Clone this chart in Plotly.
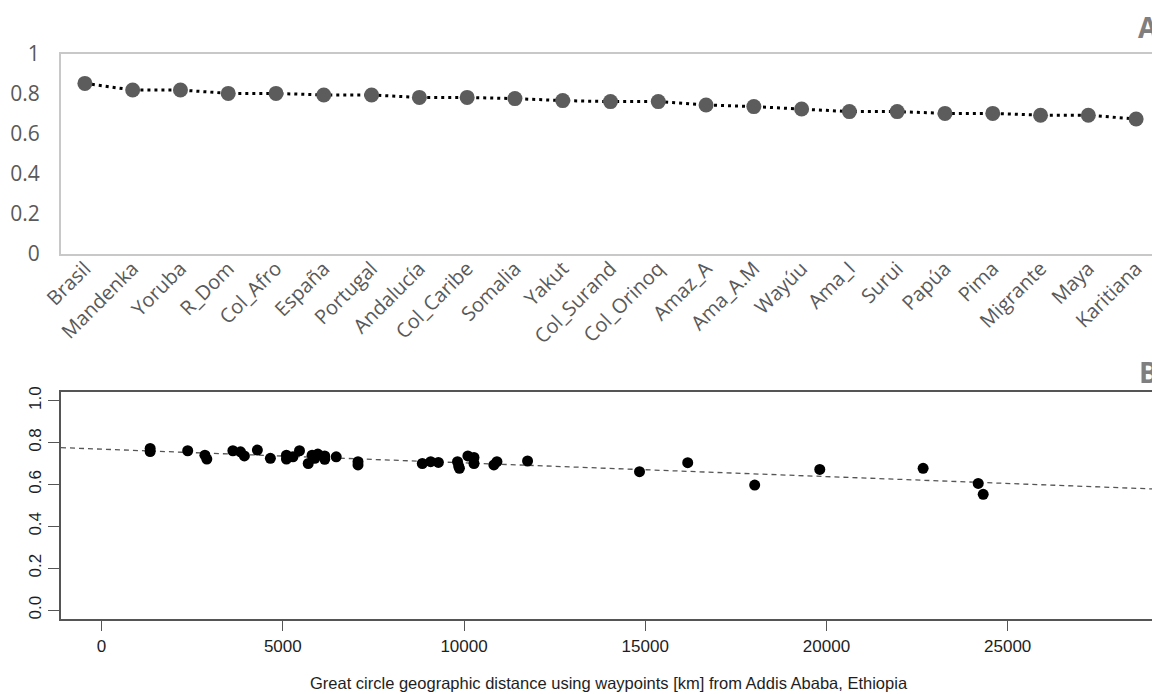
import plotly.graph_objects as go

# ---------------- Panel A data ----------------
populations = ["Brasil", "Mandenka", "Yoruba", "R_Dom", "Col_Afro", "España", "Portugal",
               "Andalucía", "Col_Caribe", "Somalia", "Yakut", "Col_Surand", "Col_Orinoq",
               "Amaz_A", "Ama_A.M", "Wayúu", "Ama_I", "Surui", "Papúa", "Pima",
               "Migrante", "Maya", "Karitiana"]
diversity_a = [0.853, 0.820, 0.820, 0.803, 0.803, 0.795, 0.795, 0.783, 0.783, 0.777,
               0.767, 0.762, 0.762, 0.745, 0.737, 0.725, 0.712, 0.712, 0.703, 0.703,
               0.694, 0.694, 0.675]
a_yticks = [0, 0.2, 0.4, 0.6, 0.8, 1]
a_yticktext = ["0", "0.2", "0.4", "0.6", "0.8", "1"]

# ---------------- Panel B data ----------------
distance_km = [1340, 1340, 2376, 2851, 2904, 3622, 3833, 3939, 4298, 4657,
               5100, 5100, 5280, 5460, 5702, 5808, 5882, 5966, 6156, 6156,
               6473, 7075, 7075, 8849, 9081, 9292, 9820, 9852, 9873, 10106,
               10275, 10275, 10824, 10908, 11753, 14842, 16172, 18020, 19815,
               22667, 24187, 24325]
diversity_b = [0.772, 0.757, 0.761, 0.740, 0.721, 0.761, 0.756, 0.736, 0.764, 0.725,
               0.740, 0.721, 0.732, 0.761, 0.700, 0.740, 0.725, 0.745, 0.736, 0.720,
               0.732, 0.709, 0.693, 0.700, 0.709, 0.705, 0.709, 0.688, 0.677, 0.736,
               0.729, 0.700, 0.693, 0.709, 0.712, 0.661, 0.704, 0.597, 0.672,
               0.677, 0.605, 0.553]
fit_intercept = 0.7685
fit_slope = -6.55e-6
b_xrange = [-1120, 29120]
b_xticks = [0, 5000, 10000, 15000, 20000, 25000]
b_xticktext = ["0", "5000", "10000", "15000", "20000", "25000"]
b_yticks = [0.0, 0.2, 0.4, 0.6, 0.8, 1.0]
b_yticktext = ["0.0", "0.2", "0.4", "0.6", "0.8", "1.0"]
x_title = "Great circle geographic distance using waypoints [km] from Addis Ababa, Ethiopia"

# The page body has an 8px margin; size the figure so it fills the 1160x694 window.
VW, VH, OFF = 1160, 694, 8
W, H = VW - OFF, VH - OFF


def px(xv):
    return (xv - OFF) / W


def py(yv):
    return (VH - yv) / H


fig = go.Figure()

fig.add_trace(go.Scatter(
    x=populations, y=diversity_a, mode="lines+markers",
    line=dict(color="black", width=3, dash="3px,4px"),
    marker=dict(size=15, color="#5c5c5c"),
    xaxis="x", yaxis="y", showlegend=False))

fit_y = [fit_intercept + fit_slope * xv for xv in b_xrange]
fig.add_trace(go.Scatter(
    x=b_xrange, y=fit_y, mode="lines",
    line=dict(color="#555555", width=1.3, dash="5px,4px"),
    xaxis="x2", yaxis="y2", showlegend=False))

fig.add_trace(go.Scatter(
    x=distance_km, y=diversity_b, mode="markers",
    marker=dict(size=11, color="black"),
    xaxis="x2", yaxis="y2", showlegend=False))

gray_txt = "#595959"
dark_txt = "#1e1e1e"
fig.update_layout(
    template="none",
    width=W, height=H,
    margin=dict(l=0, r=0, t=0, b=0, autoexpand=False),
    paper_bgcolor="white", plot_bgcolor="white",
    xaxis=dict(
        domain=[px(61), 1.0], anchor="y", type="category", automargin=False,
        range=[-0.5, 22.5], tickangle=-45, showgrid=False, zeroline=False,
        showline=True, mirror=True, linecolor="#c8c8c8", linewidth=2,
        ticks="", ticklabelstandoff=-7,
        tickfont=dict(family="Open Sans", size=20, color=gray_txt)),
    yaxis=dict(
        domain=[py(254), py(54)], anchor="x", automargin=False,
        range=[0, 1], tickvals=a_yticks, ticktext=a_yticktext,
        showgrid=False, zeroline=False,
        showline=True, mirror=True, linecolor="#c8c8c8", linewidth=2,
        ticks="", ticklabelstandoff=15,
        tickfont=dict(family="Open Sans", size=21, color=gray_txt)),
    xaxis2=dict(
        domain=[px(61), px(1157)], anchor="y2", automargin=False,
        range=b_xrange, tickvals=b_xticks, ticktext=b_xticktext,
        showgrid=False, zeroline=False,
        showline=True, mirror=True, linecolor="#555555", linewidth=1.5,
        ticks="outside", ticklen=11, tickcolor="#555555", tickwidth=1.3,
        tickfont=dict(family="Liberation Sans", size=17, color=dark_txt)),
    yaxis2=dict(
        domain=[py(618.5), py(392.3)], anchor="x2", automargin=False,
        range=[-0.04, 1.04], tickvals=b_yticks, ticktext=b_yticktext,
        tickangle=-90, showgrid=False, zeroline=False,
        showline=True, mirror=True, linecolor="#555555", linewidth=1.5,
        ticks="outside", ticklen=11, tickcolor="#555555", tickwidth=1.3,
        tickfont=dict(family="Liberation Sans", size=17, color=dark_txt)),
    annotations=[
        dict(text="<b>A</b>", x=1.0, y=py(27), xref="paper", yref="paper",
             showarrow=False, xanchor="right", yanchor="middle",
             font=dict(family="Open Sans", size=28, color="#7f7f7f")),
        dict(text="<b>B</b>", x=1.0, y=py(372), xref="paper", yref="paper",
             showarrow=False, xanchor="right", yanchor="middle",
             font=dict(family="Open Sans", size=28, color="#7f7f7f")),
        dict(text=x_title, x=px(609), y=py(683), xref="paper", yref="paper",
             showarrow=False, xanchor="center", yanchor="middle",
             font=dict(family="Liberation Sans", size=16.5, color=dark_txt)),
    ],
)

fig.write_html("out.html")
